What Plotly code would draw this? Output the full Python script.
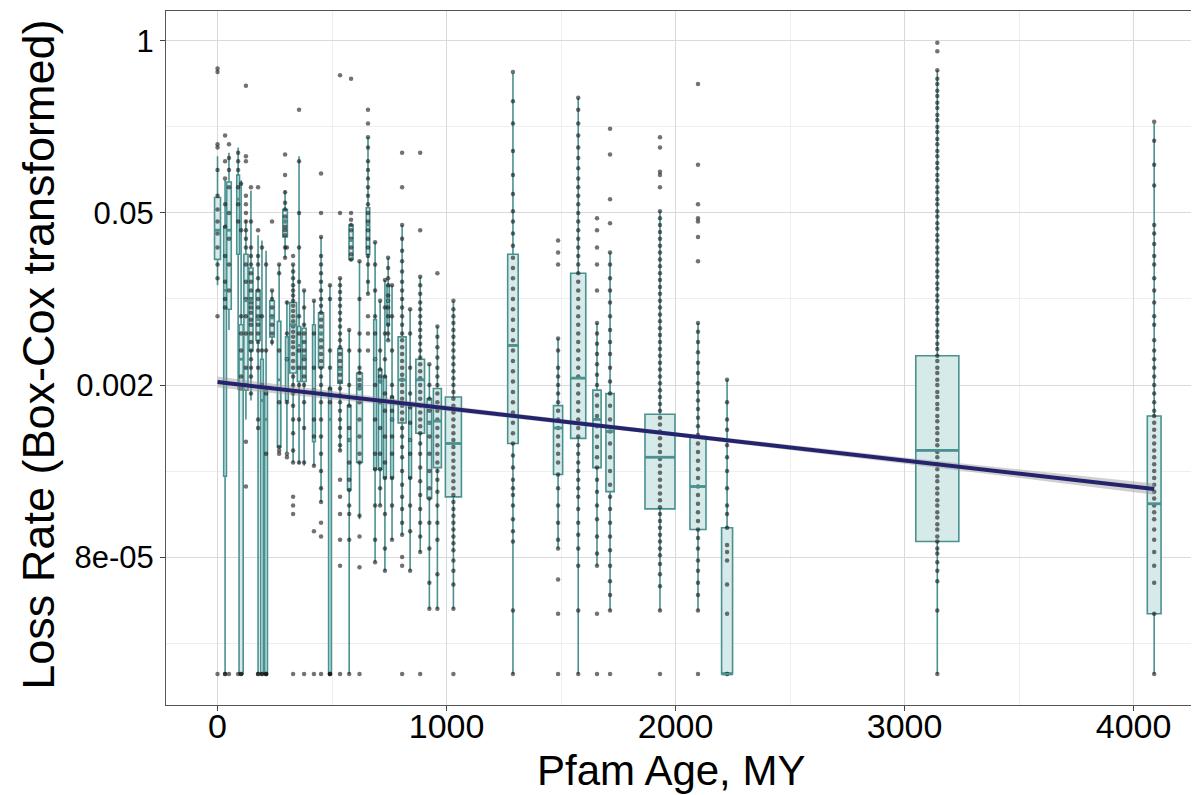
import plotly.graph_objects as go

# Pfam age (MY) of each box and box width (MY)
box_age = [0, 33, 50, 90, 103, 124, 146, 177, 194, 212, 238, 269, 295, 303, 330, 356, 378, 421, 452, 491,
           535, 575, 583, 620, 657, 688, 710, 731, 745, 762, 806, 841, 885, 925, 960, 1030,
           1290, 1487, 1575, 1657, 1714, 1932, 2098, 2225, 3143, 4090]
box_width = [26, 12, 20, 12, 18, 18, 18, 18, 12, 12, 20, 15, 20, 12, 30, 15, 18, 12, 22, 12,
             20, 15, 18, 25, 15, 12, 15, 12, 10, 12, 35, 12, 38, 20, 35, 70,
             46, 40, 66, 36, 36, 131, 70, 48, 188, 60]

# box stats on the Box-Cox scale (tick 8e-05 = 0, 0.002 = 1, 0.05 = 2, 1 = 3)
box_low = [1.58, -0.68, 1.32, 0.97, -0.68, 0.80, 0.91, -0.68, -0.68, -0.68, 1.23, 0.64, 1.74, 0.61, 0.55, 0.54,
           0.53, 0.53, 0.32, -0.68, 0.62, -0.68, 1.72, 0.22, 1.53, -0.03, 0.30, -0.08, 1.26, 0.10, 0.13, -0.08,
           0.03, -0.30, -0.30, -0.30, -0.68, 0.05, -0.68, -0.05, -0.31, -0.31, -0.31, -0.68, -0.68, -0.68]
box_q1 = [1.73, 0.47, 1.44, 1.76, -0.68, 0.97, 1.20, 1.26, -0.68, -0.68, 1.28, 0.64, 1.86, 0.91, 1.07, 1.02,
          1.02, 0.67, 1.10, -0.68, 1.01, 0.39, 1.73, 0.55, 1.76, 0.51, 0.51, 0.46, 1.35, 0.46, 0.78, 0.46,
          0.72, 0.34, 0.52, 0.35, 0.66, 0.48, 0.69, 0.52, 0.38, 0.28, 0.16, -0.68, 0.09, -0.33]
box_med = [1.90, 1.55, 1.90, 2.08, 1.15, 1.49, 1.49, 1.38, 0.91, 0.80, 1.39, 1.03, 1.95, 1.15, 1.35, 1.23,
           1.17, 0.97, 1.30, 0.80, 1.09, 0.68, 1.84, 0.98, 1.93, 1.15, 1.02, 0.91, 1.49, 0.80, 1.03, 0.68,
           1.03, 0.78, 0.79, 0.66, 1.23, 0.75, 1.04, 0.80, 0.73, 0.58, 0.41, -0.68, 0.62, 0.31]
box_q3 = [2.09, 1.92, 2.18, 2.22, 1.35, 1.76, 1.68, 1.55, 1.15, 0.97, 1.49, 1.37, 2.02, 1.28, 1.48, 1.34,
          1.33, 1.35, 1.42, 0.98, 1.21, 0.88, 1.93, 1.07, 2.03, 1.38, 1.09, 1.05, 1.58, 0.93, 1.28, 0.87,
          1.15, 0.92, 0.98, 0.93, 1.76, 0.88, 1.65, 0.97, 0.95, 0.83, 0.70, 0.17, 1.17, 0.82]
box_high = [2.33, 2.19, 2.35, 2.38, 2.19, 1.96, 2.13, 1.87, 1.84, 1.78, 1.55, 1.70, 2.13, 1.49, 1.70, 2.33,
            1.55, 1.49, 1.86, 1.58, 1.62, 1.32, 1.94, 1.72, 2.44, 1.83, 1.49, 1.61, 1.74, 1.58, 1.93, 1.44,
            1.63, 1.12, 1.34, 1.49, 2.81, 1.27, 2.67, 1.36, 1.77, 2.01, 1.36, 1.03, 2.83, 2.52]

# individual families drawn over each box (same order as box_age)
box_points = [
    [2.84, 2.82, 2.40, 2.38, 2.25, 2.10, 2.02, 1.95, 1.88, 1.80, 1.70, 1.62, 1.40, -0.68],
    [2.45, 2.30, 2.20, 2.05, 1.92, 1.75, 1.60, 1.50, 1.45, -0.68, -0.68],
    [2.40, 2.32, 2.25, 2.15, 2.00, 1.85, 1.70, 1.55, -0.68],
    [2.35, 2.30, 2.25, 2.15, 2.05, 1.95, -0.68],
    [2.17, 1.90, 1.40, 1.30, 1.20, 1.05, 0.98, -0.68, -0.68],
    [2.74, 2.33, 2.30, 2.10, 2.05, 2.00, 1.95, 1.90, 1.85, 1.80, 1.70, 1.60, 1.50, 1.40, 1.30, 1.10, 1.00, 0.67, 0.41],
    [2.15, 1.95, 1.80, 1.75, 1.70, 1.65, 1.60, 1.55, 1.50, 1.48, 1.45, 1.42, 1.38, 1.35, 1.30, 1.25, 1.20, 1.15, 1.10, 1.05, 0.95],
    [2.15, 1.90, 1.75, 1.70, 1.62, 1.55, 1.50, 1.45, 1.40, 1.35, 1.30, 1.25, 1.20, 1.10, 0.80, 0.75, -0.68, -0.68],
    [1.80, 1.40, 1.20, 1.00, -0.68, -0.68],
    [1.70, 1.20, 0.95, 0.60, -0.68, -0.68, -0.68],
    [1.95, 1.55, 1.50, 1.45, 1.40, 1.35, 1.30, 1.25],
    [1.70, 1.65, 1.20, 0.90, 0.64, 0.62, 0.60],
    [2.34, 2.22, 2.12, 2.06, 2.02, 1.98, 1.95, 1.92, 1.90, 1.87, 1.80, 1.74],
    [1.80, 1.48, 1.30, 1.15, 0.90, 0.60, 0.58],
    [1.75, 1.70, 1.66, 1.62, 1.58, 1.55, 1.52, 1.49, 1.46, 1.43, 1.40, 1.37, 1.34, 1.31, 1.28, 1.25, 1.22, 1.18,
     1.14, 1.10, 1.05, 1.00, 0.95, 0.88, 0.80, 0.72, 0.62, 0.55, 0.35, 0.30, 0.25, -0.68],
    [2.60, 2.30, 2.00, 1.80, 1.60, 1.40, 1.30, 1.20, 1.10, 1.00, 0.80, 0.55],
    [1.55, 1.45, 1.35, 1.30, 1.25, 1.20, 1.15, 1.10, 1.05, 1.00, 0.90, 0.75, 0.55, -0.68],
    [1.49, 1.30, 1.10, 0.97, 0.80, 0.70, 0.53, 0.15, -0.68],
    [2.23, 2.00, 1.86, 1.75, 1.70, 1.65, 1.60, 1.55, 1.50, 1.46, 1.42, 1.38, 1.34, 1.30, 1.26, 1.22, 1.18, 1.14,
     1.10, 1.05, 1.00, 0.95, 0.90, 0.80, 0.70, 0.60, 0.50, 0.40, 0.32, 0.20, 0.12, -0.68],
    [1.58, 1.50, 1.20, 1.10, 0.98, 0.90, -0.68, -0.68, -0.68],
    [2.80, 2.00, 1.62, 1.58, 1.54, 1.50, 1.46, 1.42, 1.38, 1.34, 1.30, 1.26, 1.22, 1.18, 1.14, 1.10, 1.06, 1.02,
     0.98, 0.94, 0.90, 0.85, 0.80, 0.75, 0.70, 0.65, 0.62, 0.45, 0.35, 0.25, 0.10, -0.05, -0.68],
    [1.32, 1.20, 1.00, 0.88, 0.75, 0.68, 0.55, 0.45, 0.39, 0.30, 0.25, 0.10, -0.68],
    [2.78, 2.00, 1.96, 1.93, 1.90, 1.85, 1.80, 1.76, 1.73],
    [1.72, 1.50, 1.30, 1.20, 1.10, 1.07, 1.03, 1.00, 0.98, 0.90, 0.80, 0.70, 0.60, 0.55, 0.24, 0.12, -0.06, -0.68],
    [2.60, 2.52, 2.44, 2.38, 2.30, 2.25, 2.20, 2.15, 2.10, 2.05, 2.00, 1.95, 1.90, 1.85, 1.80, 1.75, 1.70, 1.60,
     1.53, 1.40, 1.30, 1.20],
    [1.83, 1.70, 1.55, 1.40, 1.30, 1.15, 1.00, 0.80, 0.60, 0.51, 0.30, 0.10, -0.03],
    [1.49, 1.20, 1.09, 1.05, 1.02, 0.90, 0.75, 0.60, 0.51, 0.40, 0.30],
    [1.61, 1.45, 1.30, 1.15, 1.05, 0.95, 0.85, 0.70, 0.55, 0.46, 0.25, 0.05, -0.08],
    [1.74, 1.68, 1.62, 1.58, 1.52, 1.49, 1.45, 1.40, 1.35, 1.30, 1.26],
    [1.58, 1.40, 1.20, 1.00, 0.93, 0.85, 0.80, 0.70, 0.60, 0.46, 0.30, 0.10],
    [2.35, 2.15, 1.93, 1.85, 1.78, 1.72, 1.66, 1.60, 1.55, 1.50, 1.45, 1.40, 1.35, 1.30, 1.26, 1.22, 1.18, 1.14,
     1.10, 1.06, 1.03, 1.00, 0.96, 0.92, 0.88, 0.84, 0.80, 0.75, 0.70, 0.64, 0.58, 0.50, 0.42, 0.35, 0.28, 0.20,
     0.13, 0.00, -0.05, -0.68],
    [1.44, 1.30, 1.10, 0.95, 0.87, 0.78, 0.68, 0.60, 0.46, 0.30, 0.15, -0.08],
    [2.35, 1.90, 1.63, 1.58, 1.53, 1.48, 1.44, 1.40, 1.36, 1.32, 1.28, 1.24, 1.20, 1.16, 1.12, 1.08, 1.04, 1.00,
     0.96, 0.92, 0.88, 0.84, 0.80, 0.76, 0.72, 0.66, 0.60, 0.52, 0.44, 0.36, 0.28, 0.20, 0.12, 0.03, -0.68],
    [1.12, 1.00, 0.92, 0.85, 0.78, 0.70, 0.60, 0.50, 0.40, 0.34, 0.20, 0.05, -0.15, -0.30],
    [1.65, 1.34, 1.28, 1.22, 1.16, 1.10, 1.05, 1.00, 0.95, 0.90, 0.85, 0.80, 0.75, 0.70, 0.65, 0.60, 0.55, 0.50,
     0.45, 0.38, 0.30, 0.20, 0.10, -0.10, -0.30],
    [1.49, 1.44, 1.40, 1.36, 1.32, 1.28, 1.24, 1.20, 1.16, 1.12, 1.08, 1.04, 1.00, 0.96, 0.92, 0.88, 0.84, 0.80,
     0.76, 0.72, 0.68, 0.64, 0.60, 0.56, 0.52, 0.48, 0.44, 0.40, 0.36, 0.32, 0.28, 0.24, 0.20, 0.16, 0.12, 0.08,
     0.04, -0.02, -0.08, -0.16, -0.30, -0.68],
    [2.82, 2.65, 2.52, 2.36, 2.22, 2.11, 2.01, 1.95, 1.88, 1.81, 1.74, 1.68, 1.62, 1.56, 1.50, 1.44, 1.38, 1.32,
     1.26, 1.20, 1.14, 1.08, 1.02, 0.96, 0.90, 0.84, 0.78, 0.72, 0.66, 0.59, 0.52, 0.45, 0.40, 0.36, 0.30, 0.22,
     0.15, 0.09, -0.31, -0.68],
    [1.84, 1.77, 1.70, 1.27, 1.20, 1.10, 1.05, 1.00, 0.95, 0.90, 0.85, 0.80, 0.75, 0.70, 0.65, 0.60, 0.55, 0.48,
     0.40, 0.30, 0.20, 0.10, 0.05, -0.13, -0.33, -0.68],
    [2.67, 2.60, 2.52, 2.45, 2.38, 2.32, 2.26, 2.20, 2.15, 2.10, 2.05, 2.00, 1.95, 1.90, 1.85, 1.80, 1.75, 1.70,
     1.65, 1.60, 1.55, 1.50, 1.45, 1.40, 1.35, 1.30, 1.25, 1.20, 1.15, 1.10, 1.05, 1.00, 0.95, 0.90, 0.85, 0.80,
     0.75, 0.70, 0.65, 0.60, 0.55, 0.50, 0.45, 0.40, 0.35, 0.28, 0.20, 0.13, 0.05, -0.05, -0.31, -0.68],
    [1.97, 1.90, 1.80, 1.70, 1.55, 1.36, 1.30, 1.24, 1.18, 1.12, 1.06, 1.00, 0.94, 0.88, 0.82, 0.76, 0.70, 0.64,
     0.58, 0.52, 0.45, 0.38, 0.30, 0.22, 0.12, 0.02, -0.05, -0.33, -0.68],
    [2.49, 2.34, 2.08, 1.94, 1.77, 1.70, 1.62, 1.55, 1.48, 1.40, 1.32, 1.25, 1.18, 1.10, 1.02, 0.95, 0.88, 0.80,
     0.73, 0.66, 0.58, 0.50, 0.42, 0.35, 0.28, 0.20, 0.12, 0.04, -0.05, -0.14, -0.22, -0.31, -0.68],
    [2.44, 2.38, 2.24, 2.22, 2.15, 2.01, 1.97, 1.93, 1.89, 1.85, 1.81, 1.77, 1.73, 1.69, 1.65, 1.61, 1.57, 1.53,
     1.49, 1.45, 1.41, 1.37, 1.33, 1.29, 1.25, 1.21, 1.17, 1.13, 1.09, 1.05, 1.01, 0.97, 0.93, 0.89, 0.85, 0.81,
     0.77, 0.73, 0.69, 0.65, 0.61, 0.57, 0.53, 0.49, 0.45, 0.41, 0.37, 0.33, 0.29, 0.25, 0.21, 0.17, 0.13, 0.09,
     0.05, 0.01, -0.04, -0.10, -0.17, -0.31, -0.68],
    [2.75, 2.28, 2.05, 1.97, 1.95, 1.86, 1.72, 1.36, 1.31, 1.25, 1.19, 1.13, 1.07, 1.01, 0.96, 0.91, 0.86, 0.81,
     0.76, 0.71, 0.66, 0.61, 0.56, 0.51, 0.46, 0.41, 0.36, 0.31, 0.26, 0.21, 0.16, 0.11, 0.05, -0.02, -0.08,
     -0.15, -0.22, -0.31, -0.68],
    [1.03, 0.90, 0.80, 0.74, 0.65, 0.58, 0.50, 0.40, 0.30, 0.25, 0.17, 0.07, 0.03, -0.02, -0.16, -0.33, -0.68, -0.68],
    [2.99, 2.94, 2.83, 2.78, 2.75, 2.71, 2.68, 2.64, 2.61, 2.57, 2.54, 2.50, 2.47, 2.43, 2.40, 2.36, 2.33, 2.29,
     2.26, 2.22, 2.19, 2.15, 2.12, 2.08, 2.05, 2.01, 1.98, 1.94, 1.91, 1.87, 1.84, 1.80, 1.77, 1.73, 1.70, 1.66,
     1.63, 1.59, 1.56, 1.52, 1.49, 1.45, 1.42, 1.38, 1.35, 1.31, 1.28, 1.24, 1.21, 1.17, 1.14, 1.10, 1.07, 1.03,
     1.00, 0.96, 0.93, 0.89, 0.86, 0.82, 0.79, 0.75, 0.72, 0.68, 0.65, 0.61, 0.58, 0.54, 0.51, 0.47, 0.44, 0.40,
     0.37, 0.33, 0.30, 0.26, 0.23, 0.19, 0.16, 0.12, 0.09, 0.05, 0.02, -0.03, -0.08, -0.14, -0.31, -0.68],
    [2.53, 2.42, 2.28, 2.16, 1.93, 1.88, 1.82, 1.75, 1.70, 1.62, 1.55, 1.48, 1.40, 1.35, 1.26, 1.20, 1.15, 1.10,
     1.05, 1.00, 0.95, 0.90, 0.85, 0.82, 0.78, 0.74, 0.70, 0.66, 0.62, 0.58, 0.54, 0.50, 0.46, 0.42, 0.38, 0.34,
     0.30, 0.26, 0.22, 0.16, 0.10, 0.03, -0.05, -0.15, -0.33, -0.68],
]

# linear fit with its confidence band
fit_age = [0, 1000, 2000, 3000, 4090]
fit_u = [1.017, 0.865, 0.713, 0.561, 0.395]
fit_lo = [0.985, 0.849, 0.701, 0.543, 0.362]
fit_hi = [1.049, 0.881, 0.725, 0.579, 0.428]

y_tickvals = [0, 1, 2, 3]
y_ticktext = ['8e-05', '0.002', '0.05', '1']

TEAL = '#4a9191'
FILL = '#d6eaea'

fig = go.Figure()

for i, age in enumerate(box_age):
    fig.add_trace(go.Box(
        x=[age], q1=[box_q1[i]], median=[box_med[i]], q3=[box_q3[i]],
        lowerfence=[box_low[i]], upperfence=[box_high[i]],
        width=box_width[i], whiskerwidth=0, boxpoints=False,
        line=dict(color=TEAL, width=1.6), fillcolor=FILL,
        showlegend=False, hoverinfo='skip'))

px_, py_ = [], []
for age, pts in zip(box_age, box_points):
    px_ += [age] * len(pts)
    py_ += pts
fig.add_trace(go.Scatter(
    x=px_, y=py_, mode='markers', showlegend=False, hoverinfo='skip',
    marker=dict(size=4.5, color='rgba(20,20,20,0.6)', line=dict(width=0))))

# thicker median bars, as in ggplot
mx, my = [], []
for age, w, m in zip(box_age, box_width, box_med):
    mx += [age - w / 2, age + w / 2, None]
    my += [m, m, None]
fig.add_trace(go.Scatter(x=mx, y=my, mode='lines', showlegend=False, hoverinfo='skip',
                         line=dict(color=TEAL, width=2.8)))

fig.add_trace(go.Scatter(x=fit_age + fit_age[::-1], y=fit_hi + fit_lo[::-1],
                         fill='toself', fillcolor='rgba(150,150,150,0.45)',
                         line=dict(width=0), mode='lines', showlegend=False, hoverinfo='skip'))
fig.add_trace(go.Scatter(x=fit_age, y=fit_u, mode='lines', showlegend=False,
                         line=dict(color='#24236e', width=4)))

# page body has an 8px margin, so the figure is 8px smaller than the window
fig.update_layout(
    width=1191, height=787,
    margin=dict(l=158, r=2, t=3, b=90),
    plot_bgcolor='white', paper_bgcolor='white',
    font=dict(family='Liberation Sans, Arial, sans-serif', color='black'),
    boxmode='overlay',
    xaxis=dict(range=[-225, 4277], tickvals=[0, 1000, 2000, 3000, 4000],
               tickfont=dict(size=34), ticks='outside', ticklen=5, tickcolor='#444',
               ticklabelstandoff=-14,
               showgrid=True, gridcolor='#dadada', gridwidth=1, zeroline=False,
               minor=dict(tickvals=[500, 1500, 2500, 3500], showgrid=True, gridcolor='#eeeeee', ticks=''),
               showline=True, linecolor='#555', linewidth=1, mirror=True),
    yaxis=dict(range=[-0.86, 3.174], tickmode='array', tickvals=y_tickvals, ticktext=y_ticktext,
               tickfont=dict(size=31), ticks='outside', ticklen=5, tickcolor='#444',
               showgrid=True, gridcolor='#dadada', gridwidth=1, zeroline=False,
               minor=dict(tickvals=[-0.5, 0.5, 1.5, 2.5], showgrid=True, gridcolor='#eeeeee', ticks=''),
               showline=True, linecolor='#555', linewidth=1, mirror=True),
    annotations=[
        dict(text='Pfam Age, MY', xref='paper', yref='paper', x=0.49, y=-0.095,
             xanchor='center', yanchor='middle', showarrow=False, font=dict(size=42)),
        dict(text='Loss Rate (Box-Cox transformed)', xref='paper', yref='paper', x=-0.124, y=0.505,
             xanchor='center', yanchor='middle', textangle=-90, showarrow=False, font=dict(size=45)),
    ],
)

fig.write_html('out.html')
